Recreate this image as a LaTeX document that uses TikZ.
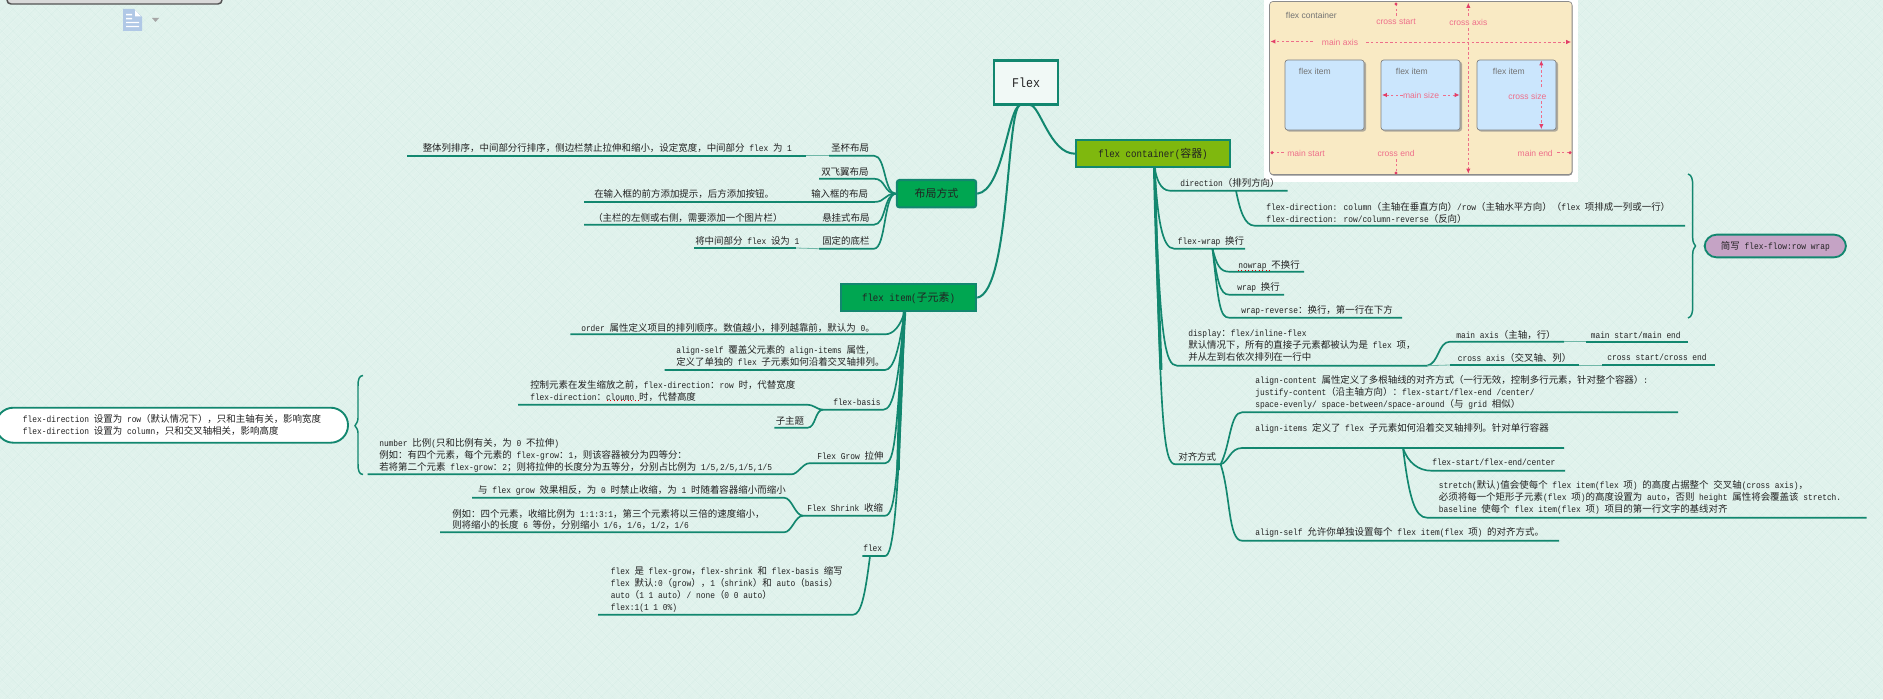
\documentclass[tikz,border=0pt]{standalone}
\usepackage{fontspec}
\usetikzlibrary{arrows.meta}
\setmainfont{Liberation Mono}[Scale=0.95,FakeStretch=0.877]
\newfontfamily\cjkf{Noto Sans CJK SC}
\newfontfamily\imgf{Liberation Sans}
\XeTeXinterchartokenstate=1
\newXeTeXintercharclass\cjkclass
\newcount\mycc
\mycc="3000 \loop \XeTeXcharclass\mycc=\cjkclass \ifnum\mycc<"30FF \advance\mycc 1 \repeat
\mycc="4E00 \loop \XeTeXcharclass\mycc=\cjkclass \ifnum\mycc<"9FFF \advance\mycc 1 \repeat
\mycc="FF00 \loop \XeTeXcharclass\mycc=\cjkclass \ifnum\mycc<"FFEF \advance\mycc 1 \repeat
\XeTeXinterchartoks 0 \cjkclass={\begingroup\cjkf}
\XeTeXinterchartoks \cjkclass 0={\endgroup}
\XeTeXinterchartoks 4095 \cjkclass={\begingroup\cjkf}
\XeTeXinterchartoks \cjkclass 4095={\endgroup}
\definecolor{bgm}{HTML}{E0F2EC}
\definecolor{teal1}{HTML}{12876F}
\definecolor{ink}{HTML}{222222}
\definecolor{pink1}{HTML}{EE6E8A}
\definecolor{pinkd}{HTML}{E23E68}
\definecolor{beige}{HTML}{F9EAC4}
\definecolor{itemblue}{HTML}{CBE6FD}
\definecolor{iconblue}{HTML}{B0C8E6}
\definecolor{mgreen}{HTML}{00A651}
\definecolor{lgreen}{HTML}{7FB80E}
\definecolor{mauve}{HTML}{C5A3C5}
\tikzset{
  conn/.style={draw=teal1,line width=1.25pt},
  rootc/.style={draw=teal1,line width=1.5pt},
  trunk/.style={draw=teal1,line width=2.2pt},
  stub/.style={draw=teal1!55!bgm,line width=.6pt},
  lbl/.style={anchor=west,inner sep=0pt,align=left,text=ink,font=\fontsize{7.1}{8.9}\selectfont},
  mainbox/.style={draw=teal1,line width=1.6pt,inner sep=0pt,text=ink,font=\fontsize{8.2}{10}\selectfont},
  pillbox/.style={draw=teal1,line width=1.4pt,rounded corners=8.9pt,inner sep=0pt,align=left,text=ink,font=\fontsize{7.1}{8.9}\selectfont},
  redul/.style={draw=red!85!black,line width=.6pt,dotted},
  imgt/.style={inner sep=0pt,font=\fontsize{6.4}{8}\imgf},
  imgp/.style={imgt,text=pink1},
  imgg/.style={imgt,text=black!55},
  dsh/.style={draw=pink1,line width=.5pt,dash pattern=on 2pt off 1.6pt},
  dsa/.style={dsh,-{Latex[length=3.6pt,width=3.2pt,color=pinkd]}},
  itemb/.style={draw=black!50,fill=itemblue,line width=.5pt,rounded corners=2pt}
}
\newcommand\ub[7]{\coordinate (#1k) at (#3,#5);\coordinate (#1e) at (#4,#5);
  \draw[conn] (#2) .. controls +(#6) and +(#7) .. (#1k) -- (#1e);}
\newcommand\tx[4]{\node[lbl] (#1) at (#2,#3) {#4};}
\begin{document}
\begin{tikzpicture}[x=0.75pt,y=-0.75pt]
\clip (0,0) rectangle (1883,699);
\fill[bgm] (0,0) rectangle (1883,699);
% background linen texture
\draw[white,opacity=.13,line width=.35pt] \foreach \i in {-700,-693,...,1883} {(\i,0) -- ++(699,699)};
\draw[white,opacity=.13,line width=.35pt] \foreach \i in {0,7,...,2590} {(\i,0) -- ++(-699,699)};
\draw[teal1,opacity=.025,line width=.35pt] \foreach \i in {-700,-689,...,1883} {(\i,0) -- ++(699,699)};
\draw[teal1,opacity=.025,line width=.35pt] \foreach \i in {0,11,...,2590} {(\i,0) -- ++(-699,699)};

% top-left chrome
\draw[black!68,fill=black!15,line width=1.1pt,rounded corners=3pt] (7,-20) rectangle (222,4);
\fill[iconblue] (123,9) -- (134,9) -- (142,17) -- (142,31) -- (123,31) -- cycle;
\fill[white] (126,14) rectangle (132,15.5) (126,18) rectangle (132,19.5) (126,22) rectangle (139,23.2) (126,26) rectangle (139,27.2) (135,10) -- (141,16.5) -- (135,16.5) -- cycle;
\fill[black!35] (152,18) -- (159,18) -- (155.5,22) -- cycle;

% embedded picture
\fill[white] (1264,0) rectangle (1578,182);
\fill[black!45,rounded corners=2.5pt] (1270,2.5) rectangle (1572.5,175.5);
\draw[black!45,fill=beige,line width=.5pt,rounded corners=2.5pt] (1269.5,1.5) rectangle (1572,174.5);
\foreach \xa/\xb in {1285/1364,1381/1460,1477/1556}{
  \fill[black!50,opacity=.6,rounded corners=2pt] (\xa+1.2,61.5) rectangle (\xb+2,131.5);
  \draw[itemb] (\xa,60) rectangle (\xb,130);}
\node[imgg,anchor=west] (ifc) at (1285.7,15.6) {flex container};
\node[imgg,anchor=west] (ifi1) at (1298.7,71) {flex item};
\node[imgg,anchor=west] (ifi2) at (1395.7,71) {flex item};
\node[imgg,anchor=west] (ifi3) at (1492.7,71) {flex item};
\node[imgp] (ics) at (1396,22) {cross start};
\node[imgp] (ica) at (1468.3,22) {cross axis};
\node[imgp] (ima) at (1340,42) {main axis};
\node[imgp] (ims) at (1421,95) {main size};
\node[imgp] (icz) at (1527.3,96) {cross size};
\node[imgp,anchor=west] (imst) at (1287,153.6) {main start};
\node[imgp] (ice) at (1396,153.7) {cross end};
\node[imgp,anchor=east] (imen) at (1553,153.6) {main end};
\draw[dsh] (1396,16) -- (1396,4); \fill[pinkd] (1396,4) circle (1.7);
\draw[dsa] (1468.3,16) -- (1468.3,3);
\draw[dsa] (1468.3,28) -- (1468.3,173.5);
\draw[dsa] (1313,41.5) -- (1270.5,41.5);
\draw[dsa] (1366,42) -- (1571,42);
\draw[dsa] (1403,95) -- (1382,95);
\draw[dsa] (1443,95) -- (1459.5,95);
\draw[dsa] (1541.3,87) -- (1541.3,60.5);
\draw[dsa] (1541.3,101) -- (1541.3,129);
\draw[dsh] (1284,152.7) -- (1272,152.7); \fill[pinkd] (1272,152.7) circle (1.7);
\draw[dsh] (1557,152.7) -- (1570,152.7); \fill[pinkd] (1570,152.7) circle (1.7);
\draw[dsh] (1396,159) -- (1396,173); \fill[pinkd] (1396,173) circle (1.7);

% main nodes
\node[mainbox,fill=white!55!bgm,minimum width=47.5pt,minimum height=33pt,font=\fontsize{10.5}{12}\selectfont] (flex) at (1026,82.5) {Flex};
\node[mainbox,fill=mgreen,rounded corners=2pt,minimum width=59.5pt,minimum height=20.5pt] (buju) at (936.5,193.7) {布局方式};
\node[mainbox,fill=mgreen,minimum width=101.5pt,minimum height=20pt] (item) at (908.5,297.7) {flex item(子元素)};
\node[mainbox,fill=lgreen,minimum width=115.5pt,minimum height=20pt] (cont) at (1153,153.7) {flex container(容器)};

% root links
\coordinate (ra) at (1020,105); \coordinate (rb) at (1030,105);
\draw[rootc] (ra) .. controls +(-12,3) and +(26,-3) .. (buju.east);
\draw[rootc] (ra) .. controls +(-14,5) and +(33,-7) .. (item.east);
\draw[rootc] (rb) .. controls +(10,0) and +(-25,0) .. (cont.west);

% ---- buju branch
\ub{ba}{buju.west}{874}{829}{155.7}{-12,0}{12,0}
\coordinate (ba2) at (806,155.7); \coordinate (ba3) at (407,155.7);
\draw[stub] (bae) -- (ba2); \draw[conn] (ba2) -- (ba3);
\ub{bb}{buju.west}{874}{819}{178.7}{-12,0}{12,0}
\ub{bc}{buju.west}{874}{584}{202}{-12,0}{12,0}
\ub{bd}{buju.west}{874}{584}{224.7}{-12,0}{12,0}
\ub{be}{buju.west}{874}{819}{248.7}{-12,0}{12,0}
\coordinate (be2) at (796,248); \coordinate (be3) at (694,248);
\draw[stub] (bee) -- (be2); \draw[conn] (be2) -- (be3);
\tx{t1}{422.5}{148}{整体列排序，中间部分行排序，侧边栏禁止拉伸和缩小，设定宽度，中间部分 flex 为 1}
\tx{t2}{831}{148}{圣杯布局}
\tx{t3}{821}{171.7}{双飞翼布局}
\tx{t4}{594}{194.3}{在输入框的前方添加提示，后方添加按钮。}
\tx{t5}{811}{194.3}{输入框的布局}
\tx{t6}{593}{217.7}{（主栏的左侧或右侧，需要添加一个图片栏）}
\tx{t7}{822}{217.7}{悬挂式布局}
\tx{t8}{695}{240.7}{将中间部分 flex 设为 1}
\tx{t9}{822}{240.7}{固定的底栏}

% ---- container branch
\coordinate (ch) at (1154.5,168);
\coordinate (chb) at (1161,370);
\draw[trunk] (ch) .. controls +(1,60) and +(-2,-60) .. (chb);
\ub{ca}{ch}{1170}{1287.5}{190.7}{2,10}{-10,0}
\coordinate (caj) at (1236,190.7);
\ub{cb}{caj}{1254.6}{1685}{225.7}{4,20}{-10,0}
\ub{cc}{ch}{1174}{1245}{248.7}{3,50}{-12,0}
\coordinate (ccj) at (1212.5,248.7);
\ub{cd}{ccj}{1229}{1304}{271.7}{4,16}{-9,0}
\ub{ce}{ccj}{1229}{1284}{294.7}{5,33}{-9,0}
\ub{cf}{ccj}{1229}{1402}{317.7}{6,55}{-9,0}
\ub{cg}{ch}{1177}{1427}{365.7}{5,170}{-12,0}
\ub{ci}{cge}{1450}{1564}{341.7}{12,-2}{-12,0}
\coordinate (ci2) at (1586,341.7); \coordinate (ci3) at (1688,341.7);
\draw[stub] (cie) -- (ci2); \draw[conn] (ci2) -- (ci3);
\coordinate (cjk) at (1450,365); \coordinate (cje) at (1579,365);
\draw[stub] (cge) -- (cjk); \draw[conn] (cjk) -- (cje);
\coordinate (cj2) at (1602,365); \coordinate (cj3) at (1715,365);
\draw[stub] (cje) -- (cj2); \draw[conn] (cj2) -- (cj3);
\ub{ck}{ch}{1175.5}{1220.6}{464.3}{6,260}{-12,0}
\ub{cl}{cke}{1242}{1678}{412.3}{10,-20}{-12,0}
\ub{cm}{cke}{1242}{1564}{448}{8,-2}{-12,0}
\ub{cn}{cke}{1242}{1559}{540.7}{10,30}{-14,0}
\coordinate (cmj) at (1403,448);
\ub{co}{cmj}{1431}{1565}{470.7}{5,15}{-12,0}
\ub{cp}{cmj}{1427}{1866.5}{517.7}{6,50}{-12,0}

\tx{r1}{1180}{183}{direction（排列方向）}
\tx{r2}{1266}{212.7}{flex-direction: column（主轴在垂直方向）/row（主轴水平方向）（flex 项排成一列或一行）\\flex-direction: row/column-reverse（反向）}
\tx{r3}{1177.6}{241.7}{flex-wrap 换行}
\tx{r4}{1238}{265}{nowrap 不换行}
\tx{r5}{1237}{287.7}{wrap 换行}
\tx{r6}{1241}{310.7}{wrap-reverse：换行，第一行在下方}
\tx{r7}{1188}{345.8}{display：flex/inline-flex\\默认情况下，所有的直接子元素都被认为是 flex 项，\\并从左到右依次排列在一行中}
\tx{r8}{1456}{335}{main axis（主轴，行）}
\tx{r9}{1590.5}{335}{main start/main end}
\tx{r10}{1457.5}{357.7}{cross axis（交叉轴、列）}
\tx{r11}{1607}{357.7}{cross start/cross end}
\tx{r12}{1178}{456.7}{对齐方式}
\tx{r13}{1255}{392.7}{align-content 属性定义了多根轴线的对齐方式（一行无效，控制多行元素，针对整个容器）:\\justify-content（沿主轴方向）：flex-start/flex-end /center/\\space-evenly/ space-between/space-around（与 grid 相似）}
\tx{r14}{1255}{428.7}{align-items  定义了 flex 子元素如何沿着交叉轴排列。针对单行容器}
\tx{r15}{1432}{462.7}{flex-start/flex-end/center}
\tx{r16}{1438.6}{497.7}{stretch(默认)值会使每个 flex item(flex 项) 的高度占据整个 交叉轴(cross axis)，\\必须将每一个矩形子元素(flex 项)的高度设置为 auto，否则 height 属性将会覆盖该 stretch.\\baseline 使每个 flex item(flex 项)  项目的第一行文字的基线对齐}
\tx{r17}{1255}{532.7}{align-self 允许你单独设置每个 flex item(flex 项) 的对齐方式。}
\coordinate (u1a) at (1238,270.7); \coordinate (u1b) at (1271.5,270.7);
\draw[redul] (u1a) -- (u1b);

% right brace and pill
\coordinate (bt) at (1688,174); \coordinate (bm) at (1695.5,246); \coordinate (bb) at (1688,318);
\draw[conn,line width=1.1pt] (bt) .. controls +(4,1) and +(0,-6) .. (1692.7,186) -- (1692.7,238) .. controls +(0,5) and +(-1,-2) .. (bm) .. controls +(-1,2) and +(0,-5) .. (1692.7,254) -- (1692.7,306) .. controls +(0,6) and +(4,-1) .. (bb);
\node[pillbox,fill=mauve,minimum width=106pt,minimum height=17pt] (pa) at (1775.3,246) {简写 flex-flow:row wrap};

% ---- item branch
\coordinate (ih) at (904.5,312);
\coordinate (ihb) at (898,470);
\draw[trunk,line width=2.6pt] (ih) .. controls +(-3,50) and +(1,-50) .. (ihb);
\ub{ia}{ih}{885.3}{570.4}{334.3}{-4,14}{8,0}
\ub{ib}{ih}{885}{664.5}{370}{-5,35}{9,0}
\ub{ic}{ih}{883.4}{823}{409.7}{-6,70}{10,0}
\ub{ie}{ih}{885}{809}{463.3}{-8,120}{10,0}
\ub{ig}{ih}{885}{803}{515.7}{-6,170}{10,0}
\ub{ij}{ih}{885}{862.4}{556}{-6,200}{8,0}
\ub{id}{ice}{807.7}{518}{404.7}{-6,0}{6,0}
\ub{id2}{ice}{807.7}{774.4}{427.7}{-8,0}{8,0}
\ub{if}{iee}{791.6}{367.6}{474.3}{-6,0}{6,0}
\ub{ih2}{ige}{784}{472}{497.7}{-8,0}{8,0}
\ub{ii}{ige}{784}{440}{532.3}{-8,0}{8,0}
\coordinate (ijj) at (870,556);
\ub{ik}{ijj}{853}{598}{614.7}{-5,40}{8,0}

\tx{l1}{581}{327.7}{order 属性定义项目的排列顺序。数值越小，排列越靠前，默认为 0。}
\tx{l2}{676}{356.2}{align-self 覆盖父元素的 align-items 属性,\\定义了单独的 flex 子元素如何沿着交叉轴排列。}
\tx{l3}{530}{391}{控制元素在发生缩放之前，flex-direction：row 时，代替宽度\\flex-direction：cloumn 时，代替高度}
\tx{l4}{833}{402.7}{flex-basis}
\tx{l5}{775.5}{420.7}{子主题}
\tx{l6}{379}{455.6}{number 比例(只和比例有关，为 0 不拉伸)\\例如：有四个元素，每个元素的 flex-grow：1，则该容器被分为四等分：\\若将第二个元素 flex-grow：2；则将拉伸的长度分为五等分，分别占比例为 1/5,2/5,1/5,1/5}
\tx{l7}{817}{455.7}{Flex Grow 拉伸}
\tx{l8}{477.8}{490.7}{与 flex grow 效果相反，为 0 时禁止收缩，为 1 时随着容器缩小而缩小}
\tx{l9}{807}{507.7}{Flex Shrink 收缩}
\tx{l10}{452}{519.5}{例如：四个元素，收缩比例为 1:1:3:1，第三个元素将以三倍的速度缩小，\\则将缩小的长度 6 等份，分别缩小 1/6，1/6，1/2，1/6}
\tx{l11}{863}{548.7}{flex}
\tx{l12}{610.6}{589.5}{flex 是 flex-grow，flex-shrink 和 flex-basis 缩写\\flex 默认:0（grow），1（shrink）和 auto（basis）\\auto（1 1 auto）/ none（0 0 auto）\\flex:1(1 1 0\%)}
\coordinate (u2a) at (607,400); \coordinate (u2b) at (640.4,400);
\draw[redul] (u2a) -- (u2b);

% left brace and pill
\coordinate (lt) at (363,375.5); \coordinate (lm) at (355,425.7); \coordinate (lb) at (363,474.5);
\draw[conn,line width=1.1pt] (lt) .. controls +(-4,0) and +(0,-6) .. (358,386) -- (358,418) .. controls +(0,4) and +(1,-2) .. (lm) .. controls +(1,2) and +(0,-4) .. (358,433) -- (358,464) .. controls +(0,6) and +(-4,0) .. (lb);
\node[pillbox,fill=white,rounded corners=13pt,minimum width=264pt,minimum height=26.25pt] (pb) at (172,425.2) {flex-direction 设置为 row（默认情况下），只和主轴有关，影响宽度\\flex-direction 设置为 column，只和交叉轴相关，影响高度};
\end{tikzpicture}
\end{document}
